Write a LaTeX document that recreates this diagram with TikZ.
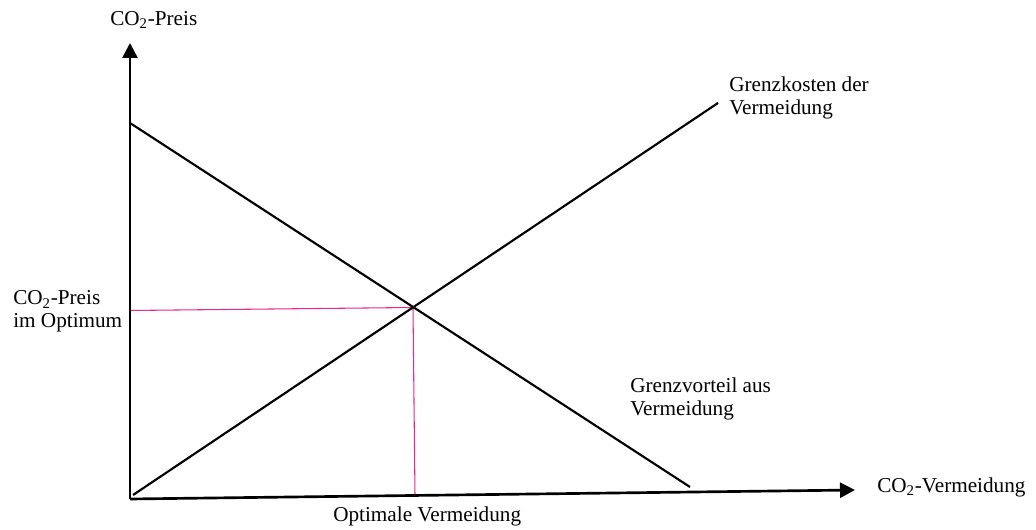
\documentclass[tikz,border=0pt]{standalone}
\usepackage{fontspec}
\setmainfont{Liberation Serif}
\usetikzlibrary{arrows.meta}
\definecolor{optpink}{RGB}{232,40,140}
\begin{document}
\begin{tikzpicture}[x=0.75pt,y=-0.75pt,every node/.style={inner sep=0pt,font=\fontsize{15.9}{17.3}\selectfont}]

% Define line styles
\tikzstyle{axis} = [draw, line width=2pt, -{Triangle[length=11.25pt,width=11.25pt]}]
\tikzstyle{curve} = [draw, line width=1.6pt]
\tikzstyle{guide} = [draw, optpink, line width=0.8pt]
\tikzstyle{label} = [anchor=west, align=left]

\useasboundingbox (0,0) rectangle (1036,530);

\coordinate (origin) at (130,499);
\coordinate (ytip) at (130,43);
\coordinate (xtip) at (855,490);

\coordinate (gk0) at (133,495);
\coordinate (gk1) at (718,103);
\coordinate (gv0) at (130,123);
\coordinate (gv1) at (690,487);

\coordinate (opt) at (413,307.5);
\coordinate (popt) at (130,310.5);
\coordinate (qopt) at (415,495.5);

\node [label] (ylabel) at (110,20) {CO\textsubscript{2}-Preis};
\node [label] (xlabel) at (877,487) {CO\textsubscript{2}-Vermeidung};
\node [label] (plabel) at (13,311.5) {CO\textsubscript{2}-Preis\\im Optimum};
\node [label] (qlabel) at (333,516) {Optimale Vermeidung};
\node [label] (gklabel) at (729,98) {Grenzkosten der\\Vermeidung};
\node [label] (gvlabel) at (630,399) {Grenzvorteil aus\\Vermeidung};

\draw[guide] (popt) -- (opt) -- (qopt);

\draw[axis] (origin) -- (ytip);
\draw[axis] (origin) -- (xtip);

\draw[curve] (gk0) -- (gk1);
\draw[curve] (gv0) -- (gv1);

\end{tikzpicture}
\end{document}
